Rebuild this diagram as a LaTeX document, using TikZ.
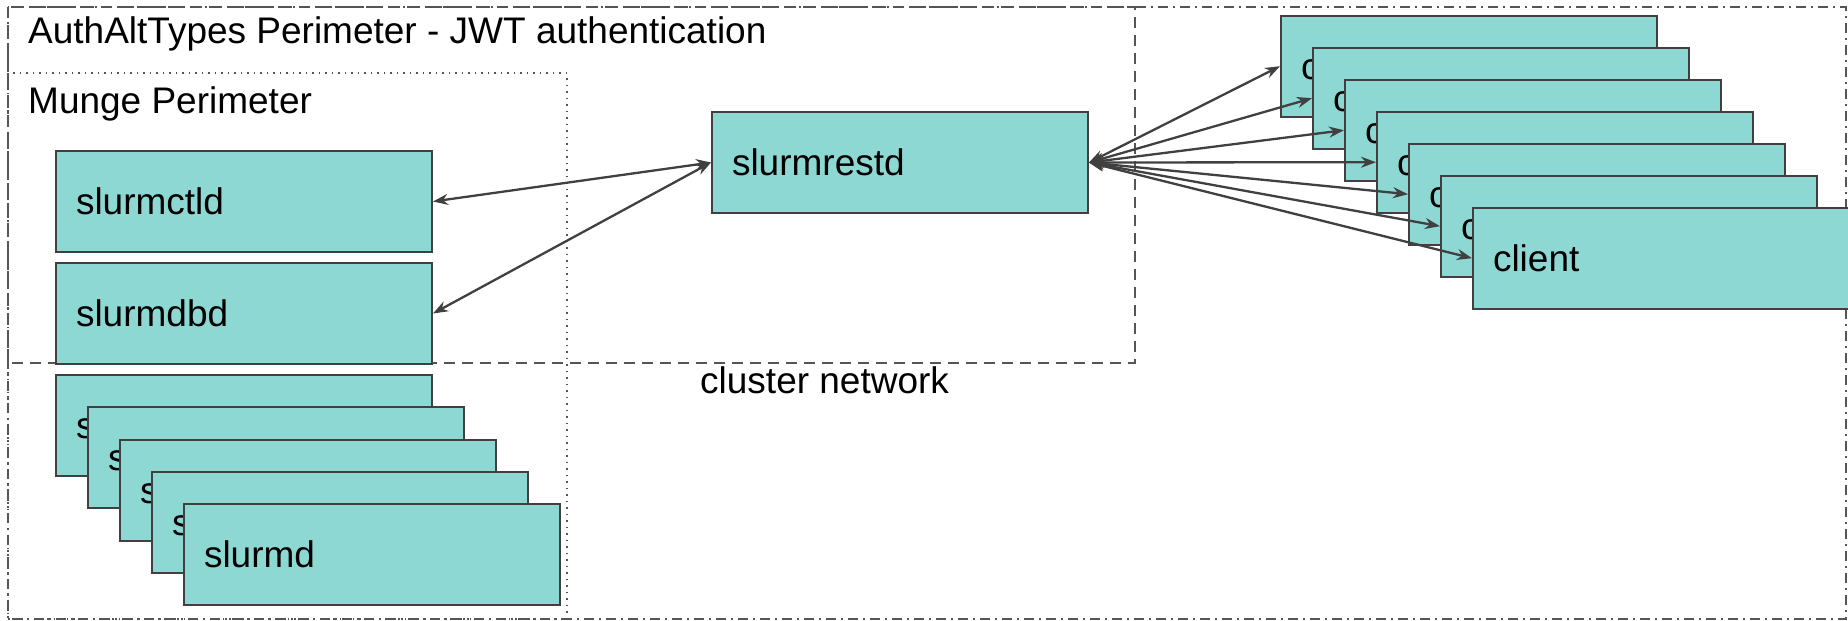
\documentclass[tikz,border=0pt]{standalone}
\usepackage{fontspec}
\setmainfont{Liberation Sans}
\usetikzlibrary{arrows.meta}
\definecolor{boxfill}{HTML}{8DD8D3}
\definecolor{edge}{HTML}{404040}
\definecolor{rim}{HTML}{555555}
\begin{document}
\begin{tikzpicture}[x=1pt,y=-1pt,
  lbl/.style={anchor=base west, inner sep=0pt, font=\fontsize{37pt}{44pt}\selectfont},
  box/.style={rectangle, draw=edge, line width=2pt, fill=boxfill, anchor=north west,
    text width=336pt, align=left, inner xsep=20pt, inner ysep=0pt,
    minimum height=101pt, text height=26pt, text depth=0pt,
    font=\fontsize{37pt}{44pt}\selectfont},
  link/.style={draw=edge, line width=2.3pt,
    {Stealth[length=15pt,width=11pt]}-{Stealth[length=15pt,width=11pt]}},
  outerframe/.style={draw=rim, line width=1.5pt, dash pattern=on 10pt off 5pt on 2pt off 5pt},
  authzone/.style={draw=rim, line width=1.6pt, dash pattern=on 11pt off 7pt},
  mungezone/.style={draw=rim, line width=1.5pt, dash pattern=on 1.5pt off 5pt}]
  \useasboundingbox (0,0) rectangle (1848,621);

  % perimeters
  \draw[outerframe] (8,7) rectangle (1846,619);
  \draw[authzone] (8,7) rectangle (1135,363);
  \draw[mungezone] (8,73) rectangle (567,619);

  \node[lbl] (authtitle) at (28,43) {AuthAltTypes Perimeter - JWT authentication};
  \node[lbl] (mungetitle) at (28,113) {Munge Perimeter};
  \node[lbl] (net) at (700,393) {cluster network};

  % controller and database daemons
  \node[box] (ctld) at (55,150) {slurmctld};
  \node[box] (dbd) at (55,262) {slurmdbd};

  % stack of compute daemons
  \foreach \i in {0,...,4}
    \node[box] (slurmd\i) at ({55+32*\i},{374+32.25*\i}) {slurmd};

  % REST daemon
  \node[box] (restd) at (711,111) {slurmrestd};

  % stack of clients
  \foreach \i in {0,...,6}
    \node[box] (cl\i) at ({1280+32*\i},{14.7+32*\i}) {client};

  % connections
  \draw[link] (restd.west) -- (ctld.east);
  \draw[link] (restd.west) -- (dbd.east);
  \foreach \i in {0,...,6}
    \draw[link] (restd.east) -- (cl\i.west);
\end{tikzpicture}
\end{document}
